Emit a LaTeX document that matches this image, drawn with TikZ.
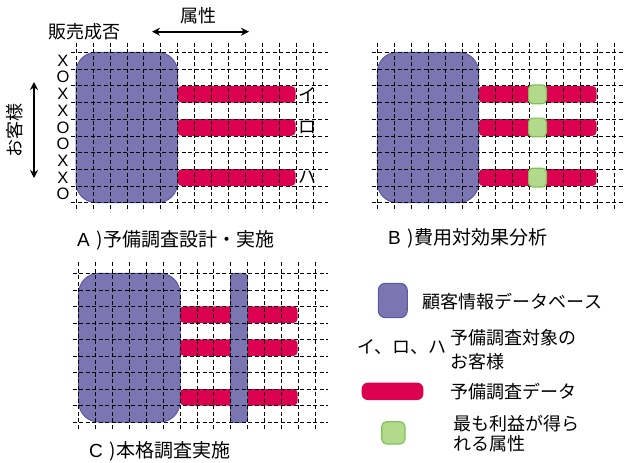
\documentclass[tikz,border=0pt]{standalone}
\usepackage{fontspec}
\setmainfont{Noto Sans CJK JP}
\newfontfamily\latfont{Liberation Sans}
\usetikzlibrary{arrows.meta}
\definecolor{dbfill}{HTML}{7B76B1}
\definecolor{dbedge}{HTML}{5A57A3}
\definecolor{redbar}{HTML}{DC0050}
\definecolor{gfill}{HTML}{B3D98B}
\definecolor{gedge}{HTML}{7CC35A}
\tikzset{
  db/.style={fill=dbfill, draw=dbedge, line width=1pt, rounded corners=20pt},
  dbthin/.style={fill=dbfill, draw=dbedge, line width=0.8pt, rounded corners=4pt},
  rbar/.style={fill=redbar, rounded corners=4pt},
  gsq/.style={fill=gfill, draw=gedge, line width=1.2pt, rounded corners=4pt},
  gridline/.style={black, line width=0.6pt, dash pattern=on 4pt off 2.5pt},
  lbl/.style={inner sep=0pt, font=\fontsize{18}{20}\selectfont},
  captxt/.style={inner sep=0pt, font=\fontsize{19}{22}\selectfont},
  xo/.style={inner sep=0pt, font=\latfont\fontsize{16.5}{18}\selectfont},
  dbl/.style={{Stealth[length=8pt,width=8pt]}-{Stealth[length=8pt,width=8pt]}, line width=1.6pt}
}
\begin{document}
\begin{tikzpicture}[x=1pt,y=-1pt]
\useasboundingbox (0,0) rectangle (624,463);
% ---------- Panel A ----------
\fill[db] (76,52.3) rectangle (177.6,202.6);
\fill[rbar] (177.6,86) rectangle (295.5,102.7);
\fill[rbar] (177.6,119.1) rectangle (295.5,135.8);
\fill[rbar] (177.6,169.2) rectangle (295.5,185.9);
\foreach \i in {0,...,9} \draw[gridline] (71,{52.3+\i*16.7}) -- (328,{52.3+\i*16.7});
\foreach \j in {0,...,14} \draw[gridline] ({76+\j*16.94},42.5) -- ({76+\j*16.94},211.5);
\node[lbl] (hanbai) at (84,32) {販売成否};
\node[lbl] (zokusei) at (198,16) {属性};
\coordinate (zl) at (152,31.7);
\coordinate (zr) at (249,31.7);
\draw[dbl] (zl) -- (zr);
\node[lbl, rotate=90] (okyaku) at (15,130) {お客様};
\coordinate (ot) at (34,82);
\coordinate (ob) at (34,178);
\draw[dbl] (ot) -- (ob);
\foreach \t [count=\k from 0] in {X,O,X,X,O,O,X,X,O}
  \node[xo] (xo\k) at (63,{60.6+\k*16.7}) {\t};
\node[lbl, anchor=west] (i1) at (298,94.3) {イ};
\node[lbl, anchor=west] (ro1) at (298,127.5) {ロ};
\node[lbl, anchor=west] (ha1) at (298,177.5) {ハ};
\node[captxt, anchor=west] (capA) at (77,240) {{\latfont A}\hspace{7pt})予備調査設計・実施};
% ---------- Panel B ----------
\fill[db] (377.3,52.3) rectangle (478.7,202.6);
\fill[rbar] (478.7,86) rectangle (596.5,102.7);
\fill[rbar] (478.7,119.1) rectangle (596.5,135.8);
\fill[rbar] (478.7,169.2) rectangle (596.5,185.9);
\foreach \i in {0,...,9} \draw[gridline] (371.7,{52.3+\i*16.7}) -- (624,{52.3+\i*16.7});
\foreach \j in {0,...,14} \draw[gridline] ({377.3+\j*16.9},42.5) -- ({377.3+\j*16.9},211);
\draw[gsq] (528.6,85) rectangle (546.4,103.7);
\draw[gsq] (528.6,118.1) rectangle (546.4,136.8);
\draw[gsq] (528.6,168.2) rectangle (546.4,186.9);
\node[captxt, anchor=west] (capB) at (388,238) {{\latfont B}\hspace{7pt})費用対効果分析};
% ---------- Panel C ----------
\fill[db] (78.7,273.3) rectangle (180,422);
\fill[rbar] (180,306.3) rectangle (297.5,322.9);
\fill[rbar] (180,339.4) rectangle (297.5,355.9);
\fill[rbar] (180,389) rectangle (297.5,405.5);
\fill[dbthin] (230.6,273.3) rectangle (247.5,422.5);
\foreach \i in {0,...,9} \draw[gridline] (72.7,{273.3+\i*16.52}) -- (328,{273.3+\i*16.52});
\foreach \j in {0,...,14} \draw[gridline] ({78.7+\j*16.88},262.3) -- ({78.7+\j*16.88},430);
\node[captxt, anchor=west] (capC) at (89,451) {{\latfont C}\hspace{7pt})本格調査実施};
% ---------- Legend ----------
\draw[db, rounded corners=7pt] (378.3,283.3) rectangle (407.3,317.7);
\node[lbl, anchor=west] (lg1) at (422.7,301.7) {顧客情報データベース};
\node[lbl, anchor=east] (lg2a) at (447,347) {イ、ロ、ハ};
\node[lbl, anchor=west] (lg2b) at (450,337.3) {予備調査対象の};
\node[lbl, anchor=west] (lg2c) at (450,361.7) {お客様};
\fill[rbar, rounded corners=6pt] (361.7,382.7) rectangle (423.3,400);
\node[lbl, anchor=west] (lg3) at (450,391.7) {予備調査データ};
\draw[gsq, rounded corners=5pt] (381.7,421.7) rectangle (405,444);
\node[lbl, anchor=west] (lg4a) at (453,423.3) {最も利益が得ら};
\node[lbl, anchor=west] (lg4b) at (453,443.3) {れる属性};
\end{tikzpicture}
\end{document}
